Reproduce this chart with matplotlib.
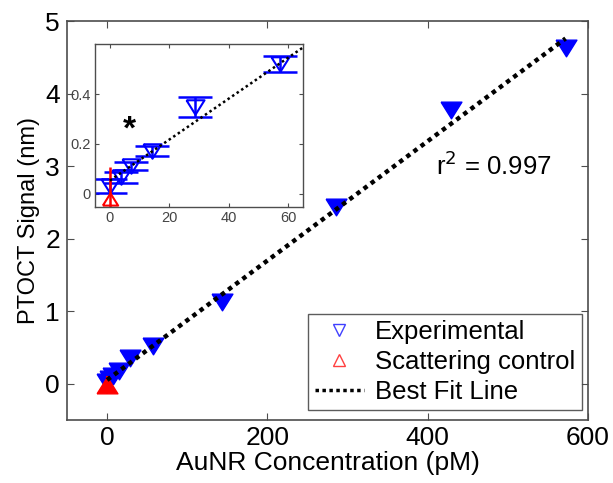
import matplotlib
matplotlib.use("Agg")
import matplotlib.pyplot as plt
import numpy as np
from matplotlib.lines import Line2D

plt.rcParams["font.family"] = ["Liberation Sans", "DejaVu Sans"]

# AuNR concentration series (pM) and PTOCT signal (nm)
conc = np.array([0.0, 3.6, 7.2, 14.3, 28.6, 57.2, 143.0, 286.0, 429.0, 572.0])
signal = np.array([0.03, 0.065, 0.11, 0.17, 0.35, 0.52, 1.13, 2.43, 3.77, 4.63])
signal_err = np.array([0.028, 0.022, 0.017, 0.02, 0.04, 0.032, 0.03, 0.03, 0.03, 0.03])

# scattering control (no AuNR)
ctrl_conc = np.array([0.0])
ctrl_signal = np.array([-0.02])
ctrl_err = np.array([0.127])

r2_label = "0.997"

slope, intercept = np.polyfit(conc, signal, 1)
fit_x = np.array([conc.min(), conc.max()])
fit_y = slope * fit_x + intercept

# MATLAB-style triangles: wider than tall
tri_down = [(-1.0, 0.8), (1.0, 0.8), (0.0, -0.8), (-1.0, 0.8)]
tri_up = [(-1.0, -0.8), (1.0, -0.8), (0.0, 0.8), (-1.0, -0.8)]

spine_col = "#4d4d4d"

fig = plt.figure(figsize=(6.13, 4.83), dpi=100)
ax = fig.add_axes([0.1093, 0.1304, 0.850, 0.826])

ax.errorbar(conc, signal, yerr=signal_err, fmt="none", ecolor="blue", elinewidth=1.5, capsize=0)
ax.plot(conc, signal, linestyle="none", marker=tri_down, markersize=15,
        color="blue", markeredgecolor="blue")
ax.errorbar(ctrl_conc, ctrl_signal, yerr=ctrl_err, fmt="none", ecolor="red", elinewidth=1.5, capsize=0)
ax.plot(ctrl_conc, ctrl_signal, linestyle="none", marker=tri_up, markersize=15,
        color="red", markeredgecolor="red")
ax.plot(fit_x, fit_y, color="black", linestyle=(0, (1, 1)), linewidth=3.2)

ax.set_xlim(-50, 600)
ax.set_ylim(-0.5, 5)
ax.set_xticks([0, 200, 400, 600])
ax.set_yticks([0, 1, 2, 3, 4, 5])
ax.tick_params(direction="in", top=True, right=True, labelsize=19, length=5,
               color=spine_col)
ax.tick_params(axis="x", pad=4)
ax.tick_params(axis="y", pad=5)
for s in ax.spines.values():
    s.set_color(spine_col)
    s.set_linewidth(1.2)
ax.set_xlabel("AuNR Concentration (pM)", fontsize=19, labelpad=1)
ax.set_ylabel("PTOCT Signal (nm)", fontsize=17, labelpad=4)

ax.text(482, 3.0, "r$^2$ = " + r2_label, fontsize=18.5, ha="center", va="center")

handles = [
    Line2D([], [], linestyle="none", marker="v", markersize=9, markerfacecolor="none",
           markeredgecolor="#4040ff", markeredgewidth=1.0),
    Line2D([], [], linestyle="none", marker="^", markersize=9, markerfacecolor="none",
           markeredgecolor="#ff4040", markeredgewidth=1.0),
    Line2D([], [], color="black", linestyle=(0, (1, 1)), linewidth=2.5),
]
leg = ax.legend(handles, ["Experimental", "Scattering control", "Best Fit Line"],
                loc="lower right", bbox_to_anchor=(0.988, 0.025), fontsize=18.5,
                frameon=True, fancybox=False, borderaxespad=0.0,
                handlelength=1.9, handletextpad=0.45, labelspacing=0.22,
                borderpad=0.25)
leg.get_frame().set_edgecolor("#333333")
leg.get_frame().set_linewidth(1.0)

# inset: low-concentration range
ins = fig.add_axes([0.155, 0.571, 0.339, 0.337])
ins.errorbar(conc, signal, yerr=signal_err, fmt="none", ecolor="blue", elinewidth=1.8,
             capsize=12, capthick=1.8)
ins.plot(conc, signal, linestyle="none", marker=tri_down, markersize=13,
         markerfacecolor="none", markeredgecolor="blue", markeredgewidth=1.5)
ins.errorbar(ctrl_conc, ctrl_signal, yerr=ctrl_err, fmt="none", ecolor="red", elinewidth=1.8, capsize=0)
ins.plot(ctrl_conc, ctrl_signal, linestyle="none", marker=tri_up, markersize=11,
         markerfacecolor="none", markeredgecolor="red", markeredgewidth=1.5)
ins.plot(fit_x, fit_y, color="black", linestyle=(0, (1, 1.2)), linewidth=1.8)
ins.text(6.7, 0.255, "*", fontsize=24, fontweight="bold", ha="center", va="center")

ins.set_xlim(-5, 65)
ins.set_ylim(-0.055, 0.6)
ins.set_xticks([0, 20, 40, 60])
ins.set_yticks([0, 0.2, 0.4])
ins.set_yticklabels(["0", "0.2", "0.4"])
ins.tick_params(direction="in", top=True, right=True, labelsize=10.5, length=3,
                color=spine_col, labelcolor="#444444", pad=3)
for s in ins.spines.values():
    s.set_color(spine_col)
    s.set_linewidth(1.0)

fig.savefig("out.png", dpi=100)
